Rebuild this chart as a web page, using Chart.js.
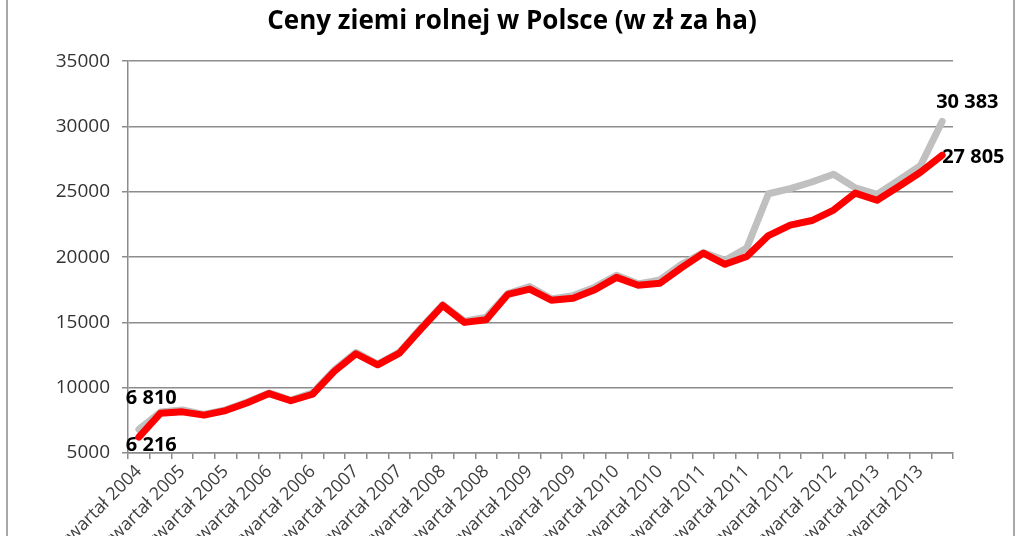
<!DOCTYPE html>
<html>
<head>
<meta charset="utf-8">
<script src="https://cdn.jsdelivr.net/npm/chart.js@4.4.1/dist/chart.umd.min.js"></script>
<style>
  html, body { margin: 0; padding: 0; width: 1024px; height: 536px; overflow: hidden; background: #fff; }
  #frame { position: absolute; left: 6px; top: 0; width: 1005px; height: 700px; border-left: 2px solid #a8a8a8; border-right: 2px solid #a8a8a8; pointer-events: none; }
  #wrap { position: absolute; left: 0; top: 0; width: 1024px; height: 640px; }
</style>
</head>
<body>
<div id="wrap"><canvas id="c" width="1024" height="640"></canvas></div>
<div id="frame"></div>
<script>
const title = 'Ceny ziemi rolnej w Polsce (w zł za ha)';

const categories = [
  'III kwartał 2004', 'IV kwartał 2004',
  'I kwartał 2005', 'II kwartał 2005', 'III kwartał 2005', 'IV kwartał 2005',
  'I kwartał 2006', 'II kwartał 2006', 'III kwartał 2006', 'IV kwartał 2006',
  'I kwartał 2007', 'II kwartał 2007', 'III kwartał 2007', 'IV kwartał 2007',
  'I kwartał 2008', 'II kwartał 2008', 'III kwartał 2008', 'IV kwartał 2008',
  'I kwartał 2009', 'II kwartał 2009', 'III kwartał 2009', 'IV kwartał 2009',
  'I kwartał 2010', 'II kwartał 2010', 'III kwartał 2010', 'IV kwartał 2010',
  'I kwartał 2011', 'II kwartał 2011', 'III kwartał 2011', 'IV kwartał 2011',
  'I kwartał 2012', 'II kwartał 2012', 'III kwartał 2012', 'IV kwartał 2012',
  'I kwartał 2013', 'II kwartał 2013', 'III kwartał 2013', 'IV kwartał 2013'
];

const redSeries = [
  6216, 8050, 8150, 7900, 8250, 8850, 9550, 9000, 9500, 11250,
  12600, 11750, 12650, 14500, 16300, 15000, 15200, 17150, 17550, 16700,
  16850, 17500, 18450, 17850, 18000, 19200, 20300, 19450, 20050, 21650,
  22450, 22800, 23600, 24900, 24350, 25400, 26500, 27805
];

const graySeries = [
  6810, 8150, 8300, 7950, 8300, 8900, 9600, 9050, 9600, 11350,
  12700, 11800, 12700, 14600, 16350, 15100, 15400, 17200, 17750, 16800,
  17050, 17700, 18600, 17950, 18250, 19450, 20350, 19750, 20700, 24850,
  25250, 25750, 26350, 25300, 24800, 25900, 27000, 30383
];

const yTicks = [5000, 10000, 15000, 20000, 25000, 30000, 35000];

const fmt = v => String(v).replace(/\B(?=(\d{3})+(?!\d))/g, ' ');

const endLabels = {
  id: 'endLabels',
  afterDatasetsDraw(chart) {
    const ctx = chart.ctx;
    ctx.save();
    ctx.font = 'bold 20px "Open Sans"';
    ctx.fillStyle = '#000';
    ctx.textBaseline = 'middle';
    ctx.textAlign = 'left';
    const red = chart.getDatasetMeta(0).data;
    const gray = chart.getDatasetMeta(1).data;
    const rl = red.length - 1, gl = gray.length - 1;
    ctx.fillText(fmt(graySeries[0]), gray[0].x - 13, gray[0].y - 31);
    ctx.fillText(fmt(redSeries[0]), red[0].x - 13, red[0].y + 8);
    ctx.fillText(fmt(graySeries[gl]), gray[gl].x - 6, gray[gl].y - 19);
    ctx.fillText(fmt(redSeries[rl]), red[rl].x, red[rl].y + 2);
    ctx.restore();
  }
};

new Chart(document.getElementById('c'), {
  type: 'line',
  data: {
    labels: categories,
    datasets: [
      { label: 'red', data: redSeries, borderColor: '#ff0000', borderWidth: 7, pointRadius: 0, tension: 0, borderJoinStyle: 'round', borderCapStyle: 'round' },
      { label: 'gray', data: graySeries, borderColor: '#c0c0c0', borderWidth: 7, pointRadius: 0, tension: 0, borderJoinStyle: 'round', borderCapStyle: 'round' }
    ]
  },
  options: {
    responsive: false,
    animation: false,
    layout: { padding: { left: 0, right: 0, top: 0, bottom: 0 } },
    plugins: {
      legend: { display: false },
      tooltip: { enabled: false },
      title: {
        display: true,
        text: title,
        color: '#000',
        font: { family: 'Open Sans', size: 26, weight: 'bold' },
        padding: { top: 6, bottom: 24 }
      }
    },
    scales: {
      x: {
        offset: true,
        grid: { offset: true, drawOnChartArea: false, drawTicks: true, tickLength: 6, color: '#8c8c8c', lineWidth: 1.5 },
        border: { color: '#8c8c8c', width: 1.5 },
        afterFit: s => { s.height = 187; },
        ticks: {
          autoSkip: false,
          minRotation: 45,
          maxRotation: 45,
          padding: 2,
          color: '#404040',
          font: { family: 'Open Sans', size: 18 },
          callback: function (v, i) { return i % 2 === 0 ? categories[i] : ''; }
        }
      },
      y: {
        min: 5000,
        max: 35000,
        afterBuildTicks: s => { s.ticks = yTicks.map(v => ({ value: v })); },
        afterFit: s => { s.width = 128; },
        grid: { color: '#8c8c8c', lineWidth: 1.5, tickLength: 6 },
        border: { color: '#8c8c8c', width: 1.5 },
        ticks: {
          color: '#333333',
          padding: 12,
          font: { family: 'Open Sans', size: 19 },
          callback: v => String(v)
        }
      },
      spacer: {
        type: 'linear',
        position: 'right',
        display: true,
        grid: { display: false, drawTicks: false },
        border: { display: false },
        ticks: { display: false },
        afterFit: s => { s.width = 71; }
      }
    }
  },
  plugins: [endLabels]
});
</script>
</body>
</html>
